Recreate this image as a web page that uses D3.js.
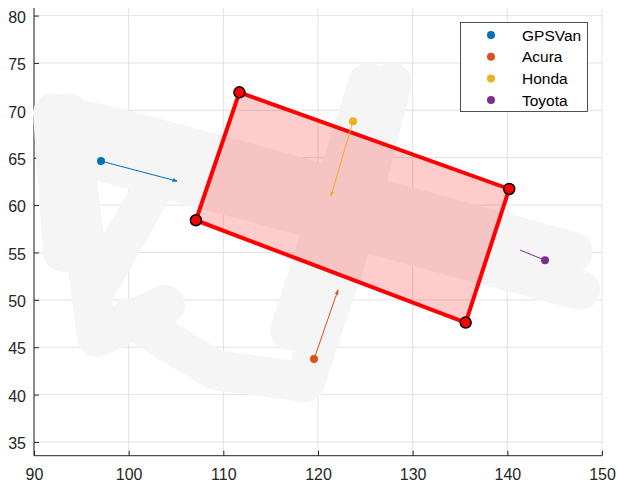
<!DOCTYPE html>
<html><head><meta charset="utf-8">
<script src="https://cdn.jsdelivr.net/npm/d3@7"></script>
<style>body{margin:0;background:#fff}svg{display:block}text{font-family:"Liberation Sans",Arial,sans-serif}</style>
</head><body><div id="chart"></div>
<script>
// ---- data ----
const xTicks = [90,100,110,120,130,140,150];
const yTicks = [35,40,45,50,55,60,65,70,75,80];
const xDomain = [90,150];
const yDomain = [33.55,80.8];

// road (track) polylines, data coords
const roadTracks = [
  [[93.06,55.04],[92.01,69.70],[100.14,67.80],[146.93,55.04]],
  [[147.67,51.03],[92.75,65.80]],
  [[93.59,69.70],[96.65,46.07],[103.84,49.45]],
  [[102.46,61.58],[96.44,51.03]],
  [[125.28,72.87],[119.26,53.46],[117.04,46.81]],
  [[127.82,72.87],[122.85,53.98],[120.74,47.87],[118.63,41.32],[109.12,42.59],[100.14,48.08]]
];

// bounding box corners
const boxX = [111.7,140.2,135.6,107.1];
const boxY = [71.9,61.7,47.6,58.4];

// objects: names, positions, velocity arrow tips
const names = ["GPSVan","Acura","Honda","Toyota"];
const colors = ["#0072BD","#D95319","#EDB120","#7E2F8E"];
const posX = [97.08,119.58,123.70,143.98];
const posY = [64.64,43.75,68.86,54.19];
const tipX = [105.1,122.11,121.37,141.34];
const tipY = [62.53,51.03,60.95,55.25];

// ---- layout ----
const W=617,H=483;
const L=34,R=602,T=8,B=455.7;
const x=d3.scaleLinear().domain(xDomain).range([L,R]);
const y=d3.scaleLinear().domain(yDomain).range([B,T]);
const svg=d3.select("#chart").append("svg").attr("width",W).attr("height",H);
const axisCol="#262626", gridCol="#e3e3e3";

svg.append("defs").append("clipPath").attr("id","clip").append("rect")
  .attr("x",L-2).attr("y",T).attr("width",R-L+2).attr("height",B-T);

// grid
const g=svg.append("g");
g.selectAll(".gx").data(xTicks).join("line").attr("x1",d=>x(d)).attr("x2",d=>x(d))
  .attr("y1",T).attr("y2",B).attr("stroke",gridCol).attr("stroke-width",1);
g.selectAll(".gy").data(yTicks).join("line").attr("y1",d=>y(d)).attr("y2",d=>y(d))
  .attr("x1",L).attr("x2",R).attr("stroke",gridCol).attr("stroke-width",1);

// axes
const xAxis=svg.append("g").attr("transform",`translate(0,${B})`)
  .call(d3.axisBottom(x).tickValues(xTicks).tickSize(-5).tickPadding(13).tickSizeOuter(0));
const yAxis=svg.append("g").attr("transform",`translate(${L},0)`)
  .call(d3.axisLeft(y).tickValues(yTicks).tickSize(-5).tickPadding(8).tickSizeOuter(0));
[xAxis,yAxis].forEach(a=>{
  a.select(".domain").attr("stroke",axisCol);
  a.selectAll(".tick line").attr("stroke",axisCol);
  a.selectAll("text").attr("fill",axisCol).style("font-size","16px");
});
yAxis.selectAll("text").attr("dy","0.42em");
yAxis.select(".domain").attr("d",`M0,${T}V${B}`);
xAxis.select(".domain").attr("d",`M${L},0H${R}`);

// road
const plot=svg.append("g").attr("clip-path","url(#clip)");
const line=d3.line().x(d=>x(d[0])).y(d=>y(d[1]));
plot.selectAll(".road").data(roadTracks).join("path").attr("d",line)
  .attr("fill","none").attr("stroke","#f5f5f5").attr("stroke-width",40)
  .attr("stroke-linecap","round").attr("stroke-linejoin","round");

// arrow markers
const defs=svg.select("defs");
colors.forEach((c,i)=>{
  defs.append("marker").attr("id","ah"+i).attr("viewBox","0 0 10 10").attr("refX",9).attr("refY",5)
    .attr("markerWidth",5).attr("markerHeight",5).attr("markerUnits","userSpaceOnUse").attr("orient","auto")
    .append("path").attr("d","M0,2L10,5L0,8Z").attr("fill",c).attr("stroke",c).attr("stroke-width",1);
});

// box
const boxPts=boxX.map((v,i)=>[v,boxY[i]]);
plot.append("path").attr("d",line(boxPts)+"Z").attr("fill","rgba(255,0,0,0.2)")
  .attr("stroke","#ff0000").attr("stroke-width",4).attr("stroke-linejoin","miter");
plot.selectAll(".corner").data(boxPts).join("circle").attr("cx",d=>x(d[0])).attr("cy",d=>y(d[1]))
  .attr("r",5.5).attr("fill","#ff0000").attr("stroke","#000").attr("stroke-width",1.5);

// objects
names.forEach((n,i)=>{
  plot.append("line").attr("x1",x(posX[i])).attr("y1",y(posY[i])).attr("x2",x(tipX[i])).attr("y2",y(tipY[i]))
    .attr("stroke",colors[i]).attr("stroke-width",1).attr("marker-end",i===3?null:"url(#ah"+i+")");
  plot.append("circle").attr("cx",x(posX[i])).attr("cy",y(posY[i])).attr("r",4).attr("fill",colors[i]);
});

// legend
const lg=svg.append("g");
lg.append("rect").attr("x",460.5).attr("y",22.5).attr("width",127).attr("height",89)
  .attr("fill","#fff").attr("stroke","#262626").attr("stroke-width",0.8);
names.forEach((n,i)=>{
  const yy=35+i*21.7;
  lg.append("circle").attr("cx",491).attr("cy",yy).attr("r",4).attr("fill",colors[i]);
  lg.append("text").attr("x",522).attr("y",yy+5.5).text(n).attr("fill","#000").style("font-size","15.5px");
});
</script></body></html>
